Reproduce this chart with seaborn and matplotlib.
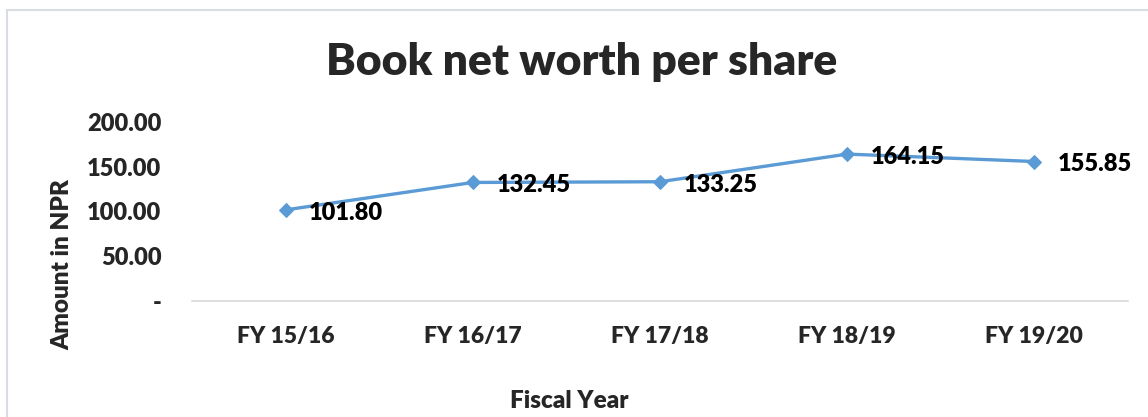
import matplotlib
matplotlib.use("Agg")
import matplotlib.pyplot as plt
import seaborn as sns
import pandas as pd
from matplotlib.patches import Rectangle

# chart values
years = ["FY 15/16", "FY 16/17", "FY 17/18", "FY 18/19", "FY 19/20"]
net_worth = [101.80, 132.45, 133.25, 164.15, 155.85]
y_ticks = [0, 50, 100, 150, 200]
y_tick_labels = ["-", "50.00", "100.00", "150.00", "200.00"]

df = pd.DataFrame({"year": years, "value": net_worth})

sns.set_style("white")
plt.rcParams["font.family"] = ["Lato", "DejaVu Sans"]
W = "heavy"

fig = plt.figure(figsize=(11.48, 4.17), dpi=100)
ax = fig.add_axes([192 / 1148, 1 - 301 / 417, (1128 - 192) / 1148, (301 - 122) / 417])

line_color = "#5B9BD5"
sns.lineplot(data=df, x="year", y="value", ax=ax, color=line_color,
             linewidth=2.4, marker="D", markersize=7, markeredgecolor=line_color,
             sort=False)

# data labels to the right of each point
for i, v in enumerate(net_worth):
    ax.annotate(f"{v:.2f}", (i, v), xytext=(17, -2), textcoords="offset points",
                ha="left", va="center", fontsize=17, fontweight=W, color="black")

ax.set_xlim(-0.5, len(years) - 0.5)
ax.set_ylim(0, 200)
ax.set_yticks(y_ticks)
ax.set_yticklabels(y_tick_labels, fontsize=17, fontweight=W)
ax.set_xticks(range(len(years)))
ax.set_xticklabels(years, fontsize=16.5, fontweight=W)
ax.tick_params(axis="y", length=0, pad=22)
ax.tick_params(axis="x", length=0, pad=18)

for s in ["top", "right", "left"]:
    ax.spines[s].set_visible(False)
ax.spines["bottom"].set_color("#D9D9D9")
ax.spines["bottom"].set_linewidth(1.2)

ax.set_xlabel("")
ax.set_ylabel("")
fig.text(569 / 1148, 1 - 401 / 417, "Fiscal Year", ha="center", va="center",
         fontsize=17.5, fontweight=W)
fig.text(62 / 1148, 1 - 265 / 417, "Amount in NPR", ha="center", va="center",
         rotation=90, fontsize=17.5, fontweight=W)
fig.text(582 / 1148, 1 - 62 / 417, "Book net worth per share", ha="center", va="center",
         fontsize=32, fontweight=W)

# chart area frame
fig.patches.append(Rectangle((7 / 1148, -0.2), 1.2, 1.2 - 10 / 417,
                             transform=fig.transFigure, fill=False,
                             edgecolor="#D9DCE3", linewidth=1.5))

fig.savefig("out.png", dpi=100)
